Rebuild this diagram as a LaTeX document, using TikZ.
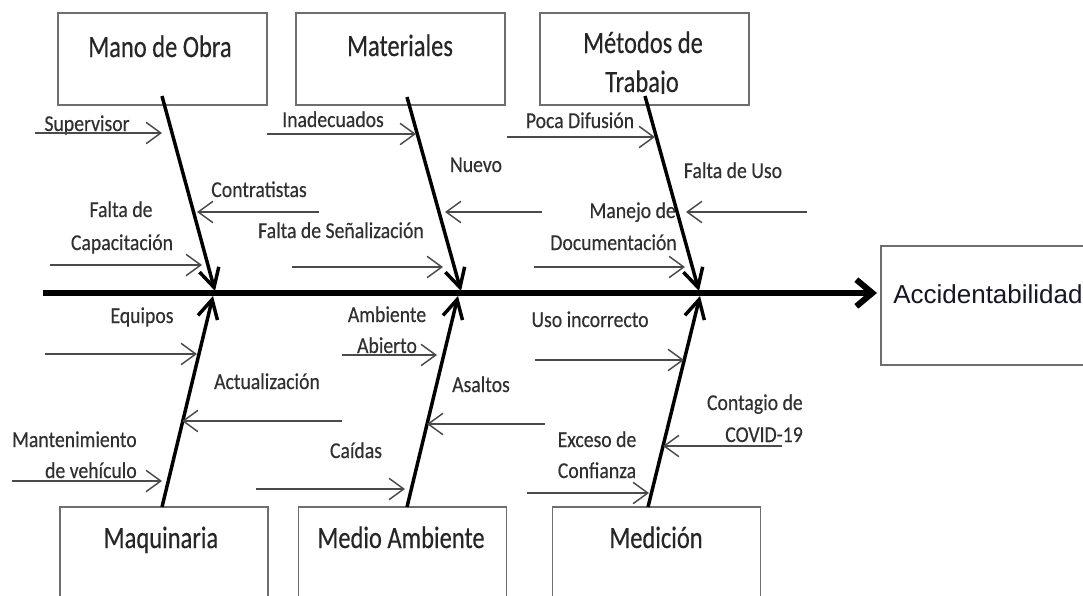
\documentclass[tikz,border=0pt]{standalone}
\usepackage{fontspec}
\usetikzlibrary{arrows.meta}
\newfontfamily\lblfont[FakeStretch=0.87,FakeBold=0.3]{Carlito}
\newfontfamily\boxfont[FakeStretch=0.79,FakeBold=0.3]{Carlito}
\newfontfamily\accfont{Liberation Sans}
\definecolor{txtgray}{HTML}{303030}
\definecolor{boxtxt}{HTML}{262626}
\definecolor{boxgray}{HTML}{6E6E6E}
\definecolor{linegray}{HTML}{4A4A4A}
\definecolor{acctxt}{HTML}{161628}
\tikzset{
  box/.style={draw=boxgray, line width=1.3pt, minimum width=156.75pt, minimum height=69pt, inner sep=0pt},
  bbox/.style={draw=boxgray, line width=1.3pt, minimum width=156pt, minimum height=88.5pt, inner sep=0pt},
  lbl/.style={font=\lblfont\fontsize{17}{20}\selectfont, text=txtgray, inner sep=0pt, anchor=base},
  blbl/.style={font=\boxfont\fontsize{23.25}{28}\selectfont, text=boxtxt, inner sep=0pt, anchor=base},
  cause/.style={draw=linegray, line width=1.1pt, -{Straight Barb[length=11pt,width=16pt]}},
  bone/.style={draw=black, line width=2.6pt, -{Straight Barb[length=14pt,width=15pt]}},
  spine/.style={draw=black, line width=4.5pt, -{Straight Barb[length=12pt,width=20pt]}}
}
\begin{document}
\begin{tikzpicture}[x=0.75pt,y=-0.75pt]
\useasboundingbox (0,0) rectangle (1083,596);
\clip (0,0) rectangle (1083,596);
\fill[white] (0,0) rectangle (1083,596);

% category boxes
\node[box] (mo) at (162.5,59) {};
\node[box] (mat) at (400.5,59) {};
\node[box] (met) at (644.5,59) {};
\node[bbox] (maq) at (164,566) {};
\node[bbox] (ma) at (402.5,566) {};
\node[bbox] (med) at (656.5,566) {};
\node[draw=boxgray, line width=1.3pt, minimum width=164.25pt, minimum height=89.25pt, inner sep=0pt] (acc) at (990.5,305.5) {};

\node[blbl] (moT) at (160,57) {Mano de Obra};
\node[blbl] (matT) at (400,56) {Materiales};
\node[blbl] (metT1) at (643,53) {Métodos de};
\begin{scope}
\clip (541,14) rectangle (748,93);
\node[blbl] (metT2) at (642,92) {Trabajo};
\end{scope}
\node[blbl] (maqT) at (161,548) {Maquinaria};
\node[blbl] (maT) at (401,548) {Medio Ambiente};
\node[blbl] (medT) at (656,548) {Medición};
\node[font=\accfont\fontsize{19.5}{23}\selectfont, text=acctxt, inner sep=0pt, anchor=base west] (accT) at (893,303) {Accidentabilidad};

% spine
\coordinate (spS) at (43,293);
\coordinate (spE) at (877,293);
\draw[spine] (spS) -- (spE);

% bones
\coordinate (moS) at (162,96);   \coordinate (moE) at (215,291);
\coordinate (matS) at (407,97);  \coordinate (matE) at (461,291);
\coordinate (metS) at (645,96);  \coordinate (metE) at (699,291);
\coordinate (maqS) at (162,507); \coordinate (maqE) at (213,296);
\coordinate (maS) at (407,507);  \coordinate (maE) at (458,296);
\coordinate (medS) at (648,507); \coordinate (medE) at (700,296);
\draw[bone] (moS) -- (moE);
\draw[bone] (matS) -- (matE);
\draw[bone] (metS) -- (metE);
\draw[bone] (maqS) -- (maqE);
\draw[bone] (maS) -- (maE);
\draw[bone] (medS) -- (medE);

% Mano de Obra causes
\node[lbl] (sup) at (87,131) {Supervisor};
\coordinate (supS) at (35,133); \coordinate (supE) at (162,133);
\draw[cause] (supS) -- (supE);
\node[lbl] (con) at (259,197) {Contratistas};
\coordinate (conS) at (319,212); \coordinate (conE) at (197,212);
\draw[cause] (conS) -- (conE);
\node[lbl] (fc1) at (121,217) {Falta de};
\node[lbl] (fc2) at (122,250) {Capacitación};
\coordinate (fcS) at (50,265); \coordinate (fcE) at (202,265);
\draw[cause] (fcS) -- (fcE);

% Materiales causes
\node[lbl] (ina) at (333,127) {Inadecuados};
\coordinate (inaS) at (267,134); \coordinate (inaE) at (416,134);
\draw[cause] (inaS) -- (inaE);
\node[lbl] (nue) at (476,172) {Nuevo};
\coordinate (nueS) at (542,212); \coordinate (nueE) at (445,212);
\draw[cause] (nueS) -- (nueE);
\node[lbl] (fs) at (341,238) {Falta de Señalización};
\coordinate (fsS) at (292,267); \coordinate (fsE) at (443,267);
\draw[cause] (fsS) -- (fsE);

% Metodos causes
\node[lbl] (poc) at (580,128) {Poca Difusión};
\coordinate (pocS) at (507,137); \coordinate (pocE) at (655,137);
\draw[cause] (pocS) -- (pocE);
\node[lbl] (fu) at (733,178) {Falta de Uso};
\coordinate (fuS) at (807,212); \coordinate (fuE) at (686,212);
\draw[cause] (fuS) -- (fuE);
\node[lbl, anchor=base east] (md1) at (676,218) {Manejo de};
\node[lbl, anchor=base east] (md2) at (677,250) {Documentación};
\coordinate (mdS) at (534,267); \coordinate (mdE) at (685,267);
\draw[cause] (mdS) -- (mdE);

% Maquinaria causes
\node[lbl] (equ) at (142,323) {Equipos};
\coordinate (equS) at (45,354); \coordinate (equE) at (197,354);
\draw[cause] (equS) -- (equE);
\node[lbl] (act) at (267,389) {Actualización};
\coordinate (actS) at (342,421); \coordinate (actE) at (182,421);
\draw[cause] (actS) -- (actE);
\node[lbl, anchor=base east] (mv1) at (137,447) {Mantenimiento};
\node[lbl, anchor=base east] (mv2) at (137,478) {de vehículo};
\coordinate (mvS) at (12,481); \coordinate (mvE) at (162,481);
\draw[cause] (mvS) -- (mvE);

% Medio Ambiente causes
\node[lbl] (ab1) at (387,322) {Ambiente};
\node[lbl] (ab2) at (387,353) {Abierto};
\coordinate (abS) at (342,355); \coordinate (abE) at (437,355);
\draw[cause] (abS) -- (abE);
\node[lbl] (asa) at (481,392) {Asaltos};
\coordinate (asaS) at (545,424); \coordinate (asaE) at (427,424);
\draw[cause] (asaS) -- (asaE);
\node[lbl] (cai) at (356,458) {Caídas};
\coordinate (caiS) at (256,489); \coordinate (caiE) at (405,489);
\draw[cause] (caiS) -- (caiE);

% Medicion causes
\node[lbl] (uso) at (590,327) {Uso incorrecto};
\coordinate (usoS) at (535,360); \coordinate (usoE) at (684,360);
\draw[cause] (usoS) -- (usoE);
\node[lbl, anchor=base east] (cv1) at (803,410) {Contagio de};
\node[lbl, anchor=base east] (cv2) at (803,442) {COVID-19};
\coordinate (cvS) at (782,446); \coordinate (cvE) at (663,446);
\draw[cause] (cvS) -- (cvE);
\node[lbl] (ex1) at (597,447) {Exceso de};
\node[lbl] (ex2) at (597,478) {Confianza};
\coordinate (exS) at (527,493); \coordinate (exE) at (649,493);
\draw[cause] (exS) -- (exE);
\end{tikzpicture}
\end{document}
